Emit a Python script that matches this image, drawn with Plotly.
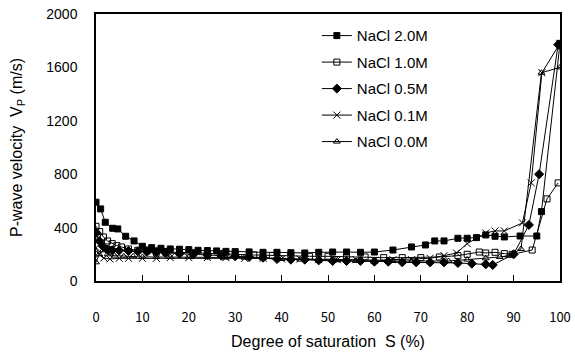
import plotly.graph_objects as go

# ---- data ----
s_20 = [0, 1, 2, 3.6, 4.7, 6.4, 8.2, 10, 12, 14, 16, 18, 20, 22, 24, 26, 28, 30, 33, 36, 39, 42, 45,
        48, 51, 54, 57, 60, 64, 68, 71, 73, 75, 78, 80, 82, 84, 86, 88, 91.4, 95, 96, 100]
v_20 = [590, 540, 440, 395, 390, 335, 300, 260, 250, 245, 240, 238, 235, 230, 228, 225, 222, 220, 218, 215,
        215, 212, 210, 215, 217, 217, 215, 217, 232, 255, 270, 300, 300, 320, 320, 325, 345, 335, 330, 337,
        337, 520, 1780]

s_10 = [0, 0.8, 1.6, 2.5, 3.5, 4.5, 5.5, 7, 9, 11, 13, 15, 18, 21, 24, 27, 30, 34, 38, 42, 46, 50, 54,
        58, 62, 66, 70, 74, 78, 80, 82.6, 84, 86, 88, 89.7, 94, 97.2, 99.6]
v_10 = [410, 370, 330, 300, 280, 265, 255, 240, 230, 225, 220, 215, 215, 210, 205, 205, 200, 195, 190, 190,
        185, 185, 180, 180, 175, 175, 175, 180, 190, 200, 217, 210, 215, 205, 200, 232, 615, 735]

s_05 = [0, 0.7, 1.5, 2.5, 3.5, 5, 7, 9, 11, 13, 15, 18, 21, 24, 27, 30, 33, 36, 39, 42, 45, 48, 51, 54,
        57, 60, 63, 66, 69, 72, 75, 78, 81, 84, 85.5, 90, 93.3, 95.5, 99.6]
v_05 = [360, 300, 260, 235, 230, 228, 225, 222, 220, 215, 210, 205, 200, 195, 190, 185, 180, 175, 165, 160,
        160, 155, 150, 150, 150, 145, 145, 140, 140, 140, 140, 135, 130, 125, 120, 200, 420, 800, 1770]

s_01 = [0, 0.7, 1.7, 3, 5, 7, 10, 13, 16, 20, 24, 28, 32, 36, 40, 44, 48, 52, 56, 60, 64, 68, 72, 75,
        77.7, 80, 84, 86, 88, 91.9, 93.8, 96.1, 100]
v_01 = [250, 200, 172, 165, 170, 170, 170, 170, 175, 175, 175, 175, 170, 170, 165, 165, 160, 160, 160, 155,
        160, 160, 170, 190, 210, 280, 360, 375, 375, 435, 735, 1560, 1780]

s_00 = [0, 0.7, 1.5, 2.5, 4, 6, 8, 10, 13, 16, 20, 24, 28, 32, 36, 40, 44, 48, 52, 56, 60, 64, 68, 72,
        76, 80, 84, 87, 89, 91.6, 96, 100]
v_00 = [140, 200, 230, 200, 190, 185, 185, 180, 180, 180, 180, 178, 175, 175, 170, 165, 160, 155, 155, 150,
        150, 150, 150, 150, 150, 160, 170, 180, 190, 240, 1560, 1600]

names = ["NaCl 2.0M", "NaCl 1.0M", "NaCl 0.5M", "NaCl 0.1M", "NaCl 0.0M"]
symbols = ["square", "square-open", "diamond", "x-thin-open", "triangle-up-open"]
sizes = [6, 6, 7, 7, 6]

xs = [s_20, s_10, s_05, s_01, s_00]
ys = [v_20, v_10, v_05, v_01, v_00]

x_ticks = [0, 10, 20, 30, 40, 50, 60, 70, 80, 90, 100]
y_ticks = [0, 400, 800, 1200, 1600, 2000]

fig = go.Figure()
for i, (x, y, n, sym, sz) in enumerate(zip(xs, ys, names, symbols, sizes)):
    fig.add_trace(go.Scatter(
        x=x, y=y, name=n, mode="lines+markers", legendgroup=f"g{i}",
        line=dict(color="black", width=1),
        marker=dict(symbol=sym, size=sz, color="black",
                    line=dict(color="black", width=1)),
    ))

fig.update_layout(
    width=575, height=360,
    margin=dict(l=96, r=15, t=14, b=79, autoexpand=False),
    paper_bgcolor="white", plot_bgcolor="white",
    font=dict(family="Liberation Sans, Arial, sans-serif", size=14, color="black"),
    showlegend=True,
    legend=dict(x=0.476, y=0.98, xanchor="left", yanchor="top",
                bgcolor="rgba(0,0,0,0)", borderwidth=0,
                font=dict(size=15), tracegroupgap=4, itemwidth=30),
)

fig.update_xaxes(
    range=[0, 100], tickvals=x_ticks, ticktext=[str(t) for t in x_ticks],
    showgrid=False, zeroline=False, automargin=False,
    showline=True, linecolor="black", linewidth=1.5, mirror=True,
    ticks="inside", ticklen=6, tickcolor="black", tickwidth=1.2,
    ticklabelstandoff=24,
    tickfont=dict(family="Noto Sans CJK KR", size=13),
    title=dict(text="Degree of saturation  S (%)", font=dict(size=16), standoff=10),
)
fig.update_yaxes(
    range=[0, 2000], tickvals=y_ticks, ticktext=[str(t) for t in y_ticks],
    showgrid=False, zeroline=False, automargin=False,
    showline=True, linecolor="black", linewidth=1.5, mirror=True,
    ticks="", ticklabelstandoff=14,
    tickfont=dict(size=14),
    title=dict(text="P-wave velocity  V<sub>P</sub> (m/s)", font=dict(size=16), standoff=20),
)

fig.write_html("out.html")
